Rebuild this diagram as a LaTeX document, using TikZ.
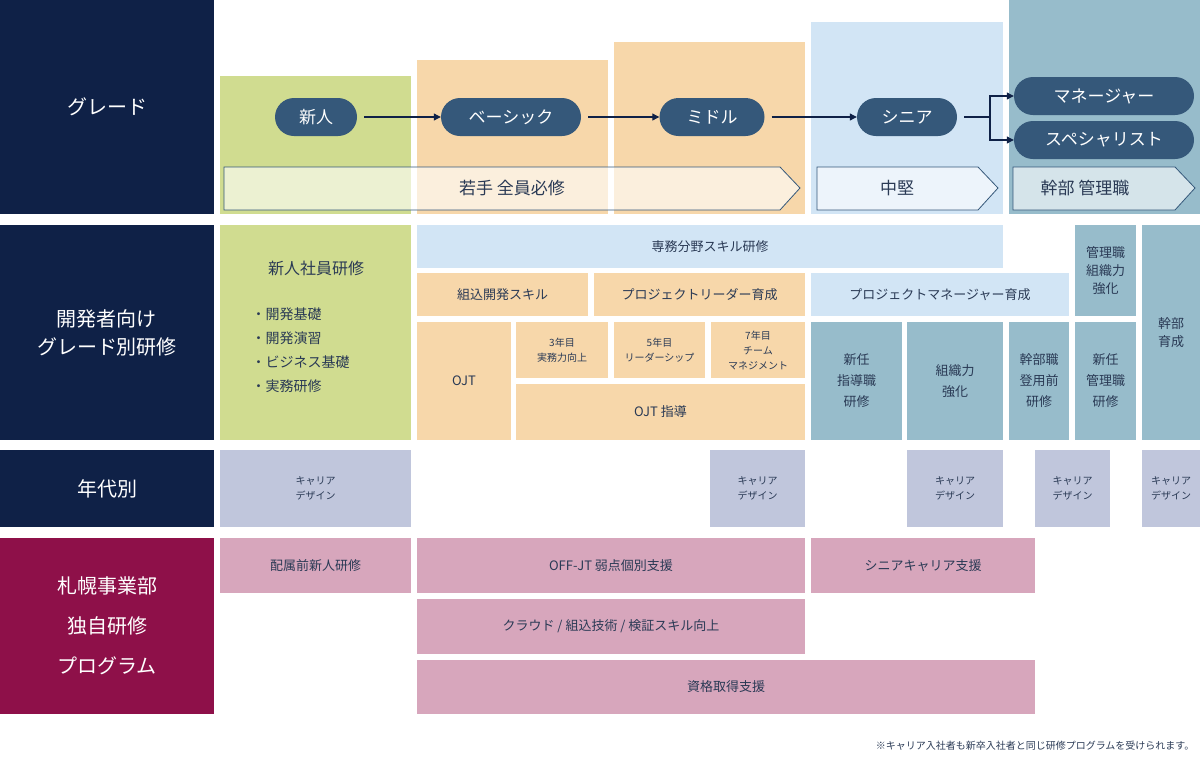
\documentclass[tikz,border=0pt]{standalone}
\usepackage{fontspec}
\setmainfont{Noto Sans CJK JP}
\usetikzlibrary{arrows.meta}
\definecolor{navy}{HTML}{0F2147}
\definecolor{maroon}{HTML}{8E1049}
\definecolor{gr}{HTML}{D0DC90}
\definecolor{og}{HTML}{F7D7AA}
\definecolor{lb}{HTML}{D2E5F5}
\definecolor{sb}{HTML}{97BCCB}
\definecolor{pill}{HTML}{35587A}
\definecolor{lav}{HTML}{C0C6DC}
\definecolor{pk}{HTML}{D7A6BC}
\definecolor{tx}{HTML}{2A3A55}
\tikzset{
 x=1pt,y=-1pt,
 hdr/.style={text=white,font=\fontsize{20}{28}\selectfont,align=center},
 lbl/.style={text=tx,font=\fontsize{13}{18}\selectfont,align=center},
 sml/.style={text=tx,font=\fontsize{10}{15}\selectfont,align=center},
 pillbox/.style={fill=pill,rounded corners=19pt,minimum height=38pt,text=white,font=\fontsize{17}{20}\selectfont,inner sep=0pt},
 arr/.style={draw=navy,line width=1.1pt,-{Triangle[length=7pt,width=7pt]}},
 banner/.style={fill=white,fill opacity=0.6,draw=pill,line width=0.8pt,text opacity=1},
}
\newcommand{\bx}[6]{\fill[#1] (#2,#3) rectangle (#4,#5); \node[#6] at ({(#2+#4)/2},{(#3+#5)/2})}
\begin{document}
\begin{tikzpicture}
\useasboundingbox (0,0) rectangle (1200,766);
% headers
\bx{navy}{0}{0}{214}{214}{hdr} (h1) {グレード};
\bx{navy}{0}{225}{214}{440}{hdr} (h2) {開発者向け\\グレード別研修};
\bx{navy}{0}{450}{214}{527}{hdr} (h3) {年代別};
\bx{maroon}{0}{538}{214}{714}{hdr,font=\fontsize{20}{40}\selectfont} (h4) {札幌事業部\\独自研修\\プログラム};
% grade columns
\fill[gr] (220,76) rectangle (411,214);
\fill[og] (417,60) rectangle (608,214);
\fill[og] (614,42) rectangle (805,214);
\fill[lb] (811,22) rectangle (1003,214);
\fill[sb] (1009,0) rectangle (1200,214);
% banners
\draw[banner] (224,167) -- (780,167) -- (800,188) -- (780,210) -- (224,210) -- cycle;
\node[lbl,font=\fontsize{17}{20}\selectfont] (b1) at (512,188) {若手 全員必修};
\draw[banner] (817,167) -- (978,167) -- (998,188) -- (978,210) -- (817,210) -- cycle;
\node[lbl,font=\fontsize{17}{20}\selectfont] (b2) at (897,188) {中堅};
\draw[banner] (1013,167) -- (1175,167) -- (1195,188) -- (1175,210) -- (1013,210) -- cycle;
\node[lbl,font=\fontsize{17}{20}\selectfont] (b3) at (1085,188) {幹部 管理職};
% pills
\node[pillbox,minimum width=82pt] (p1) at (316,117) {新人};
\node[pillbox,minimum width=140pt] (p2) at (511,117) {ベーシック};
\node[pillbox,minimum width=105pt] (p3) at (712,117) {ミドル};
\node[pillbox,minimum width=100pt] (p4) at (907,117) {シニア};
\node[pillbox,minimum width=180pt] (p5) at (1104,96) {マネージャー};
\node[pillbox,minimum width=180pt] (p6) at (1104,140) {スペシャリスト};
\draw[arr] ([xshift=7pt]p1.east) -- (p2.west);
\draw[arr] ([xshift=7pt]p2.east) -- (p3.west);
\draw[arr] ([xshift=7pt]p3.east) -- (p4.west);
\coordinate (br) at (990,117);
\draw[navy,line width=1.1pt] ([xshift=7pt]p4.east) -- (br);
\draw[arr] (br) |- (p5.west);
\draw[arr] (br) |- (p6.west);
% row 2
\fill[gr] (220,225) rectangle (411,440);
\node[lbl,font=\fontsize{16}{20}\selectfont] (n1) at (316,268) {新人社員研修};
\node[lbl,align=left,anchor=north west,font=\fontsize{14}{24}\selectfont] (n2) at (248,304) {・開発基礎\\・開発演習\\・ビジネス基礎\\・実務研修};
\bx{lb}{417}{225}{1003}{268}{lbl} (r1) {専務分野スキル研修};
\bx{og}{417}{273}{588}{316}{lbl} (r2) {組込開発スキル};
\bx{og}{594}{273}{805}{316}{lbl} (r3) {プロジェクトリーダー育成};
\bx{lb}{811}{273}{1069}{316}{lbl} (r4) {プロジェクトマネージャー育成};
\bx{sb}{1075}{225}{1136}{316}{lbl} (r5) {管理職\\組織力\\強化};
\bx{sb}{1142}{225}{1200}{440}{lbl} (r6) {幹部\\育成};
\bx{og}{417}{322}{511}{440}{lbl} (r7) {OJT};
\bx{og}{516}{322}{608}{378}{sml} (r8) {3年目\\実務力向上};
\bx{og}{614}{322}{705}{378}{sml} (r9) {5年目\\リーダーシップ};
\bx{og}{711}{322}{805}{378}{sml} (r10) {7年目\\チーム\\マネジメント};
\bx{og}{516}{384}{805}{440}{lbl} (r11) {OJT 指導};
\bx{sb}{811}{322}{902}{440}{lbl,font=\fontsize{13}{21}\selectfont} (r12) {新任\\指導職\\研修};
\bx{sb}{907}{322}{1003}{440}{lbl,font=\fontsize{13}{21}\selectfont} (r13) {組織力\\強化};
\bx{sb}{1009}{322}{1069}{440}{lbl,font=\fontsize{13}{21}\selectfont} (r14) {幹部職\\登用前\\研修};
\bx{sb}{1075}{322}{1136}{440}{lbl,font=\fontsize{13}{21}\selectfont} (r15) {新任\\管理職\\研修};
% row 3
\bx{lav}{220}{450}{411}{527}{sml} (c1) {キャリア\\デザイン};
\bx{lav}{710}{450}{805}{527}{sml} (c2) {キャリア\\デザイン};
\bx{lav}{907}{450}{1003}{527}{sml} (c3) {キャリア\\デザイン};
\bx{lav}{1035}{450}{1110}{527}{sml} (c4) {キャリア\\デザイン};
\bx{lav}{1142}{450}{1200}{527}{sml} (c5) {キャリア\\デザイン};
% row 4
\bx{pk}{220}{538}{411}{593}{lbl} (s1) {配属前新人研修};
\bx{pk}{417}{538}{805}{593}{lbl} (s2) {OFF-JT 弱点個別支援};
\bx{pk}{811}{538}{1035}{593}{lbl} (s3) {シニアキャリア支援};
\bx{pk}{417}{599}{805}{654}{lbl} (s4) {クラウド / 組込技術 / 検証スキル向上};
\bx{pk}{417}{660}{1035}{714}{lbl} (s5) {資格取得支援};
\node[sml,anchor=east] (fn) at (1198,746) {※キャリア入社者も新卒入社者と同じ研修プログラムを受けられます。};
\end{tikzpicture}
\end{document}
